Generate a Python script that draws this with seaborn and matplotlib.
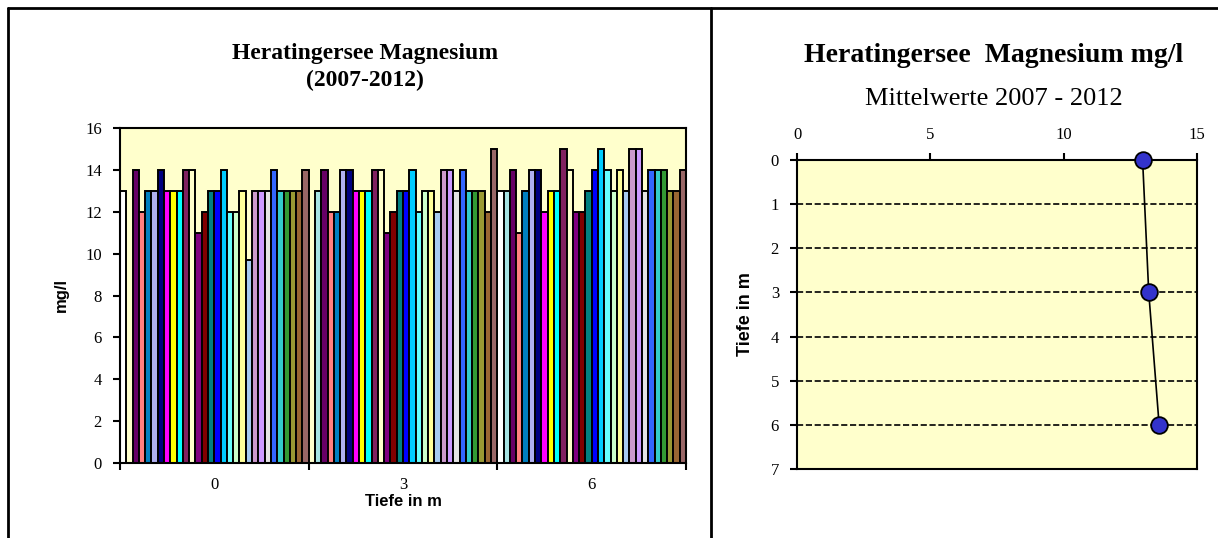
import numpy as np
import pandas as pd
import matplotlib
matplotlib.use("Agg")
import matplotlib.pyplot as plt
import seaborn as sns
from matplotlib.lines import Line2D

# data
depths = ["0", "3", "6"]
series_colors = [
    "#FFFFFF", "#A6E3E3", "#660066", "#FF8080", "#0080C0", "#B0B0F0",
    "#000080", "#FF00FF", "#FFFF00", "#00FFFF", "#802060", "#FFFFCC",
    "#800080", "#800000", "#008080", "#0000FF", "#00CCFF", "#66FFFF",
    "#CCFFCC", "#FFFF99", "#A6CAF0", "#CC99CC", "#CC99FF", "#E3E3E3",
    "#3366FF", "#33CCCC", "#339933", "#999933", "#996633", "#996666",
]
mg_0m = [13, np.nan, 14, 12, 13, 13, 14, 13, 13, 13, 14, 14, 11, 12, 13,
         13, 14, 12, 12, 13, 9.7, 13, 13, 13, 14, 13, 13, 13, 13, 14]
mg_3m = [np.nan, 13, 14, 12, 12, 14, 14, 13, 13, 13, 14, 14, 11, 12, 13,
         13, 14, 12, 13, 13, 12, 14, 14, 13, 14, 13, 13, 13, 12, 15]
mg_6m = [13, 13, 14, 11, 13, 14, 14, 12, 13, 13, 15, 14, 12, 12, 13,
         14, 15, 14, 13, 14, 13, 15, 15, 13, 14, 14, 14, 13, 13, 14]

mean_depth = [0, 3, 6]
mean_mg = [12.96, 13.19, 13.58]

sns.set_theme(style="white")
plt.rcParams["font.family"] = ["Liberation Serif", "DejaVu Serif"]
plt.rcParams["text.color"] = "black"
plt.rcParams["axes.labelcolor"] = "black"
plt.rcParams["xtick.color"] = "black"
plt.rcParams["ytick.color"] = "black"

series_names = ["R%02d" % i for i in range(len(series_colors))]
rows = []
for depth, vals in zip(depths, [mg_0m, mg_3m, mg_6m]):
    for name, v in zip(series_names, vals):
        rows.append({"Tiefe": depth, "Reihe": name, "mg": v})
df = pd.DataFrame(rows)

fig = plt.figure(figsize=(12.18, 5.38), dpi=100)
bg = "#FFFFCC"

# left: bar chart
ax1 = fig.add_axes([120 / 1218, 1 - 463 / 538, 566 / 1218, 335 / 538])
sns.barplot(data=df, x="Tiefe", y="mg", hue="Reihe", hue_order=series_names,
            order=depths, palette=series_colors, width=1.0, gap=0,
            saturation=1, errorbar=None, edgecolor="black", linewidth=1.4,
            legend=False, ax=ax1)
ax1.set_facecolor(bg)
ax1.set_xlim(-0.5, 2.5)
ax1.set_ylim(0, 16)
ax1.set_yticks(range(0, 17, 2))
ax1.set_xticks([0, 1, 2])
ax1.set_xticks([-0.5, 0.5, 1.5, 2.5], minor=True)
ax1.tick_params(axis="x", which="major", length=0, pad=10, labelsize=12)
ax1.tick_params(axis="x", which="minor", length=5, width=1.5, direction="out", bottom=True)
ax1.tick_params(axis="y", length=5, width=1.5, direction="out", left=True,
                labelsize=12, pad=8)
ax1.set_xlabel("Tiefe in m", fontsize=12, fontweight="bold",
               fontfamily="Liberation Sans", labelpad=1)
ax1.set_ylabel("mg/l", fontsize=12, fontweight="bold",
               fontfamily="Liberation Sans", labelpad=12)
for sp in ax1.spines.values():
    sp.set_color("black")
    sp.set_linewidth(1.5)

# right: mean profile
ax2 = fig.add_axes([797 / 1218, 1 - 469 / 538, 400 / 1218, 309 / 538])
sns.lineplot(x=mean_mg, y=mean_depth, sort=False, ax=ax2, color="black",
             linewidth=1.2, marker="o", markersize=12,
             markerfacecolor="#3333CC", markeredgecolor="black",
             markeredgewidth=1.3, clip_on=False, zorder=5)
ax2.set_facecolor(bg)
ax2.set_xlim(0, 15)
ax2.set_ylim(7, 0)
ax2.set_xticks([0, 5, 10, 15])
ax2.set_yticks(range(0, 8))
ax2.xaxis.tick_top()
ax2.tick_params(axis="x", length=5, width=1.5, direction="out", top=True,
                labelsize=12, pad=7)
ax2.tick_params(axis="y", length=5, width=1.5, direction="out", left=True,
                labelsize=12, pad=8)
ax2.yaxis.grid(True, linestyle="--", color="black", linewidth=1.2)
ax2.xaxis.grid(False)
ax2.set_ylabel("Tiefe in m", fontsize=13, fontweight="bold",
               fontfamily="Liberation Sans", labelpad=12)
for sp in ax2.spines.values():
    sp.set_color("black")
    sp.set_linewidth(1.5)

# titles
fig.text(365 / 1218, 1 - 53 / 538, "Heratingersee Magnesium", ha="center",
         va="center", fontsize=17, fontweight="bold")
fig.text(365 / 1218, 1 - 80 / 538, "(2007-2012)", ha="center", va="center",
         fontsize=17, fontweight="bold")
fig.text(994 / 1218, 1 - 56 / 538, "Heratingersee  Magnesium mg/l",
         ha="center", va="center", fontsize=20, fontweight="bold")
fig.text(994 / 1218, 1 - 99 / 538, "Mittelwerte 2007 - 2012", ha="center",
         va="center", fontsize=19)

# outer frame lines
fig.add_artist(Line2D([8 / 1218, 1], [1 - 8 / 538, 1 - 8 / 538], color="black", lw=2))
fig.add_artist(Line2D([8 / 1218, 8 / 1218], [0, 1 - 8 / 538], color="black", lw=2))
fig.add_artist(Line2D([711 / 1218, 711 / 1218], [0, 1 - 8 / 538], color="black", lw=2))

fig.savefig("out.png", dpi=100)
